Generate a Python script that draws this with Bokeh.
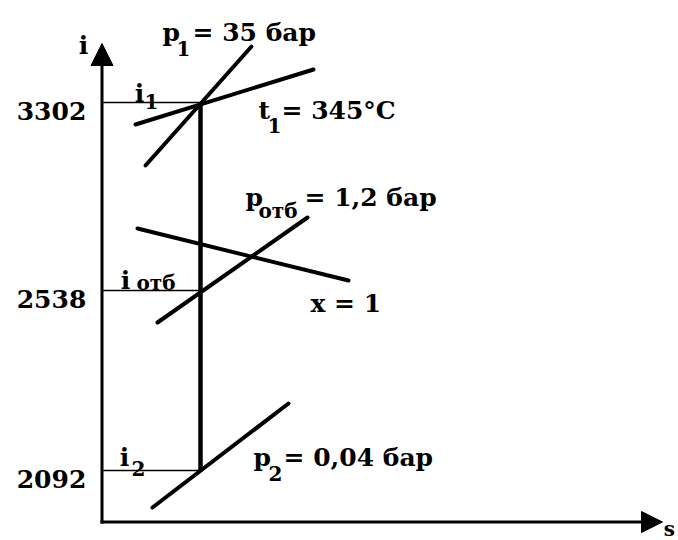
from bokeh.plotting import figure
from bokeh.models import ColumnDataSource, Range1d, Arrow, NormalHead
from bokeh.core.properties import value
from bokeh.embed import file_html
from bokeh.resources import INLINE

# i-s diagram of steam expansion in a turbine (schematic chart units:
# s to the right, chart height measured downward from the top).
I_VALUES = [3302, 2538, 2092]          # enthalpy of states 1, extraction, 2
I_LEVELS = [102, 290, 470]             # chart height of those states
S_EXPANSION = 200                      # isentropic expansion s = const
S_AXIS = 101.5                         # i axis
I_AXIS = 521.5                         # s axis
AXIS_TOP = 43
AXIS_RIGHT = 662

# State lines through the diagram: isobars, isotherm, saturation line
LINE_NAMES = ["p1", "t1", "x1", "p_otb", "p2"]
LINE_S0 = [145, 135, 137, 157, 152]
LINE_H0 = [165, 124, 228, 322, 507]
LINE_S1 = [251, 313, 348, 307, 288]
LINE_H1 = [46, 69, 280, 217, 403]

# Labels: main text pieces and subscripts
MAIN_TEXT = ["i", "p", "= 35 бар", "t", "= 345°C", "p", "= 1,2 бар",
             "x = 1", "p", "= 0,04 бар", "i", "i", "i"]
MAIN_S = [83, 162, 192, 258, 281, 245, 304, 310, 253, 283, 139, 125, 124]
MAIN_H = [45, 32, 32, 110, 110, 197, 197, 303, 457, 457, 93, 280, 457]
MAIN_ALIGN = ["center", "left", "left", "left", "left", "left", "left",
              "left", "left", "left", "center", "center", "center"]

SUB_TEXT = ["1", "1", "отб", "2", "1", "отб", "2"]
SUB_S = [176, 267, 258, 268, 144, 136, 131]
SUB_H = [48, 125, 210, 473, 101, 282, 468]

S_LABEL = "s"

FONT = value("DejaVu Serif")

p = figure(width=678, height=540, x_range=Range1d(0, 678), y_range=Range1d(540, 0),
           x_axis_type=None, y_axis_type=None, output_backend="svg",
           toolbar_location=None, min_border=0)
p.grid.visible = False
p.outline_line_color = None
p.background_fill_color = "white"
p.border_fill_color = "white"

# axes with arrowheads
p.add_layout(Arrow(end=NormalHead(size=22, fill_color="black", line_color="black", line_width=1),
                   x_start=S_AXIS, y_start=I_AXIS + 1.5, x_end=S_AXIS, y_end=AXIS_TOP,
                   line_width=3, line_color="black"))
p.add_layout(Arrow(end=NormalHead(size=21, fill_color="black", line_color="black", line_width=1),
                   x_start=S_AXIS - 1.5, y_start=I_AXIS, x_end=AXIS_RIGHT, y_end=I_AXIS,
                   line_width=3, line_color="black"))

# enthalpy levels: thin leaders from the axis to the expansion line
lev = ColumnDataSource(dict(s0=[S_AXIS] * len(I_LEVELS), s1=[S_EXPANSION] * len(I_LEVELS),
                            h=I_LEVELS, lab=[str(v) for v in I_VALUES],
                            lab_h=[h + 8 for h in I_LEVELS], lab_s=[51] * len(I_LEVELS)))
p.segment(x0="s0", y0="h", x1="s1", y1="h", source=lev, line_color="black", line_width=1.4)
p.text(x="lab_s", y="lab_h", text="lab", source=lev, text_font=FONT, text_font_style="bold",
       text_font_size="25px", text_align="center", text_baseline="alphabetic", text_color="black")

# state lines
lines = ColumnDataSource(dict(s0=LINE_S0, h0=LINE_H0, s1=LINE_S1, h1=LINE_H1, name=LINE_NAMES))
p.segment(x0="s0", y0="h0", x1="s1", y1="h1", source=lines, line_color="black",
          line_width=4, line_cap="round")

# expansion 1 -> 2 at constant entropy
p.segment(x0=[S_EXPANSION], y0=[I_LEVELS[0]], x1=[S_EXPANSION], y1=[I_LEVELS[-1]],
          line_color="black", line_width=4.5)

# labels
main = ColumnDataSource(dict(s=MAIN_S, h=MAIN_H, t=MAIN_TEXT, a=MAIN_ALIGN))
p.text(x="s", y="h", text="t", text_align="a", source=main, text_font=FONT,
       text_font_style="bold", text_font_size="25px", text_baseline="alphabetic",
       text_color="black")
sub = ColumnDataSource(dict(s=SUB_S, h=SUB_H, t=SUB_TEXT))
p.text(x="s", y="h", text="t", source=sub, text_font=FONT, text_font_style="bold",
       text_font_size="20px", text_align="left", text_baseline="alphabetic",
       text_color="black")

# s axis title, just past the arrow tip
p.text(x=[AXIS_RIGHT + 7], y=[I_AXIS + 7], text=[S_LABEL], text_font=FONT,
       text_font_style="bold", text_font_size="20px", text_align="center",
       text_baseline="alphabetic", text_color="black")

open("out.html", "w").write(file_html(p, INLINE))
